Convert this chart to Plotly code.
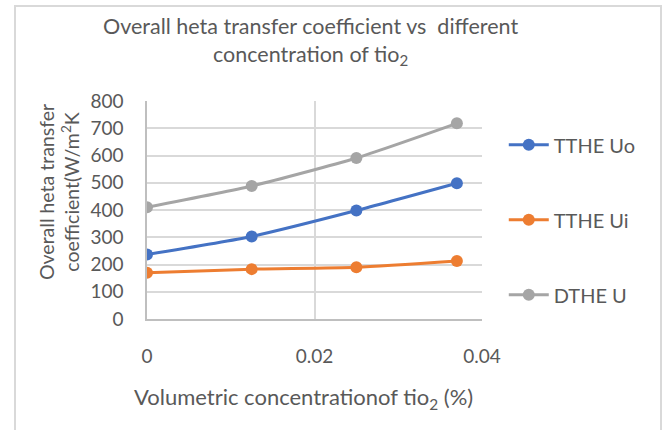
import plotly.graph_objects as go

conc = [0, 0.0125, 0.025, 0.037]
tthe_uo = [237, 303, 398, 498]
tthe_ui = [170, 183, 190, 213]
dthe_u = [410, 488, 591, 718]

series = [
    ("TTHE Uo", tthe_uo, "#4472C4"),
    ("TTHE Ui", tthe_ui, "#ED7D31"),
    ("DTHE U", dthe_u, "#A5A5A5"),
]

title_text = ("Overall heta transfer coefficient vs  different<br>"
              "concentration of tio<sub>2</sub>")
y_title = "Overall heta transfer<br>coefficient(W/m<sup>2</sup>K"
x_title = "Volumetric concentrationof tio<sub>2</sub> (%)"

FONT = "Lato, Open Sans, sans-serif"
TXT = "#595959"

# plot area in pixels
L, R, T, B = 147, 183, 101, 111
W, H = 665, 430
PW, PH = W - L - R, H - T - B


def px(x):
    return (x - L) / PW


def py(y):
    return (H - B - y) / PH


fig = go.Figure()
for i, (name, vals, col) in enumerate(series):
    fig.add_trace(go.Scatter(
        x=conc, y=vals, name=name, mode="lines+markers",
        line=dict(color=col, width=3, shape="spline", smoothing=0.6),
        marker=dict(color=col, size=12),
        legendgroup=f"g{i}",
    ))

annotations = [
    dict(text=title_text, x=px(310), y=py(41), font=dict(size=21.5, color=TXT)),
    dict(text=y_title, x=px(59), y=py(192), textangle=-90, font=dict(size=19.5, color=TXT)),
    dict(text=x_title, x=px(303), y=py(398), font=dict(size=22, color=TXT)),
]
for a in annotations:
    a.update(xref="paper", yref="paper", xanchor="center", yanchor="middle",
             showarrow=False)

fig.update_layout(
    width=W, height=H,
    margin=dict(l=L, r=R, t=T, b=B),
    paper_bgcolor="white", plot_bgcolor="white",
    font=dict(family=FONT, color=TXT, size=19),
    showlegend=True,
    legend=dict(
        x=1.065, xanchor="left", y=0.889, yanchor="top",
        font=dict(family=FONT, size=20, color=TXT),
        tracegroupgap=46, itemwidth=40,
        bgcolor="rgba(0,0,0,0)",
    ),
    xaxis=dict(
        range=[0, 0.04], tickvals=[0, 0.02, 0.04], ticktext=["0", "0.02", "0.04"],
        showgrid=True, gridcolor="#D9D9D9", gridwidth=1.5,
        showline=True, linecolor="#BFBFBF", linewidth=1.5,
        zeroline=False, ticks="outside", ticklen=19, tickcolor="rgba(0,0,0,0)",
        tickfont=dict(size=19, color=TXT),
    ),
    yaxis=dict(
        range=[0, 800], dtick=100,
        showgrid=True, gridcolor="#D9D9D9", gridwidth=1.5,
        showline=True, linecolor="#BFBFBF", linewidth=1.5,
        zeroline=False, ticks="outside", ticklen=18, tickcolor="rgba(0,0,0,0)",
        tickfont=dict(size=19, color=TXT),
    ),
    annotations=annotations,
    shapes=[dict(type="rect", xref="paper", yref="paper",
                 x0=px(15), x1=px(661), y0=py(470), y1=py(6),
                 line=dict(color="#D9D9D9", width=2))],
)

fig.write_html("out.html")
